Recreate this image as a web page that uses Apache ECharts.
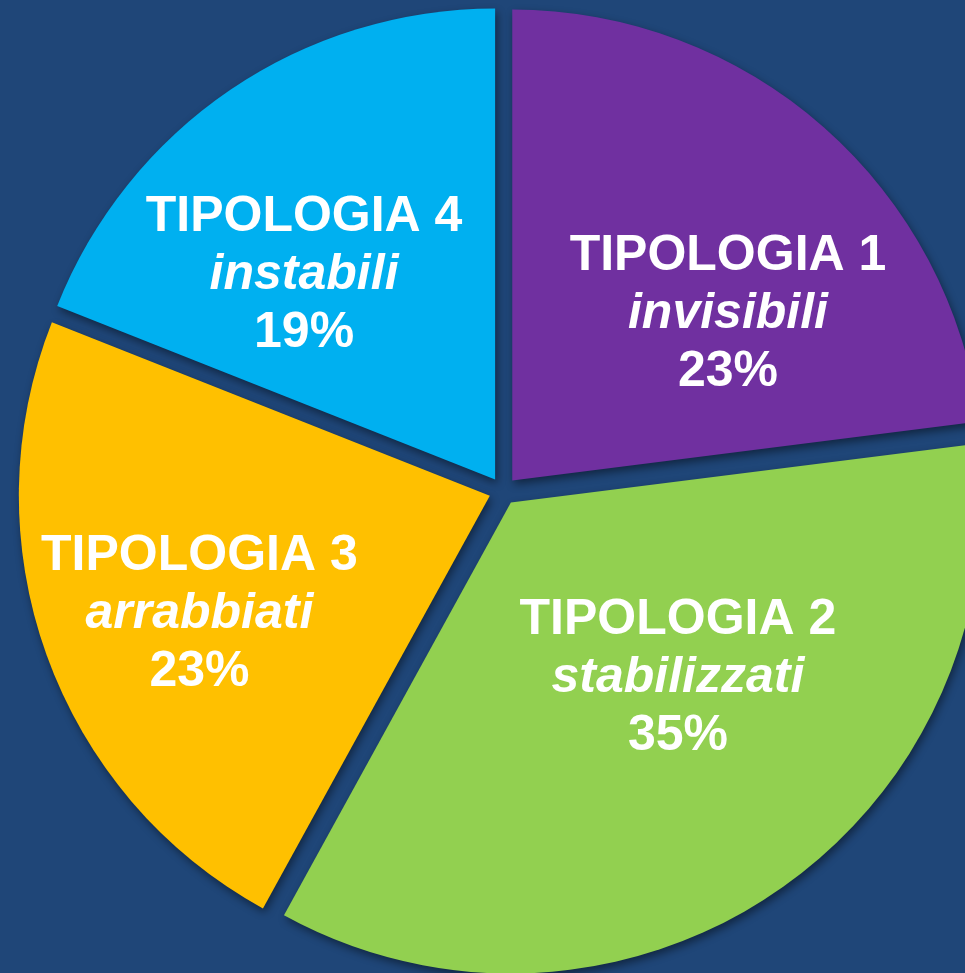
<!DOCTYPE html>
<html>
<head>
<meta charset="UTF-8">
<title>Tipologie</title>
<script src="https://cdn.jsdelivr.net/npm/echarts@6/dist/echarts.min.js"></script>
<style>
  html, body { margin: 0; padding: 0; background: #1f4678; }
</style>
</head>
<body>
	<div id="container" style="width:965px;height:973px;"></div>
	<script type="text/javascript">
	// dati
	var categories = ['TIPOLOGIA 1', 'TIPOLOGIA 2', 'TIPOLOGIA 3', 'TIPOLOGIA 4'];
	var subtitles  = ['invisibili', 'stabilizzati', 'arrabbiati', 'instabili'];
	var values     = [23, 35, 23, 19];
	var colors     = ['#7030a0', '#92d050', '#ffc000', '#00b0f0'];
	// spostamento etichette rispetto alla posizione di default
	var labelShift = [[58, 13], [33, -22], [-66, 38], [-57, -7]];

	var seriesData = [];
	for (var i = 0; i < values.length; i++) {
		seriesData.push({
			name: categories[i],
			value: values[i],
			selected: true,
			itemStyle: { color: colors[i] }
		});
	}

	var dom = document.getElementById("container");
	var myChart = echarts.init(dom);
	var font = '"Liberation Sans", Arial, sans-serif';
	var option = {
		backgroundColor: '#1f4678',
		animation: false,
		series: [
			{
				type: 'pie',
				center: [503, 491],
				radius: 471,
				startAngle: 90,
				clockwise: true,
				selectedMode: 'multiple',
				selectedOffset: 14,
				avoidLabelOverlap: false,
				itemStyle: {
					borderWidth: 0,
					shadowBlur: 8,
					shadowColor: 'rgba(0,0,0,0.45)',
					shadowOffsetX: 2,
					shadowOffsetY: 4
				},
				emphasis: { disabled: true },
				select: { itemStyle: { borderWidth: 0 } },
				label: {
					show: true,
					position: 'inside',
					color: '#fff',
					align: 'center',
					formatter: function (p) {
						return '{t|' + p.name + '}\n{s|' + subtitles[p.dataIndex] + '}\n{t|' + p.value + '%}';
					},
					rich: {
						t: { fontFamily: font, fontWeight: 'bold', fontSize: 50, lineHeight: 58, color: '#fff' },
						s: { fontFamily: font, fontWeight: 'bold', fontStyle: 'italic', fontSize: 50, lineHeight: 58, color: '#fff' }
					}
				},
				labelLine: { show: false },
				labelLayout: function (params) {
					var s = labelShift[params.dataIndex];
					return { dx: s[0], dy: s[1] };
				},
				data: seriesData
			}
		]
	};
	myChart.setOption(option, true);
    </script>
</body>
</html>
